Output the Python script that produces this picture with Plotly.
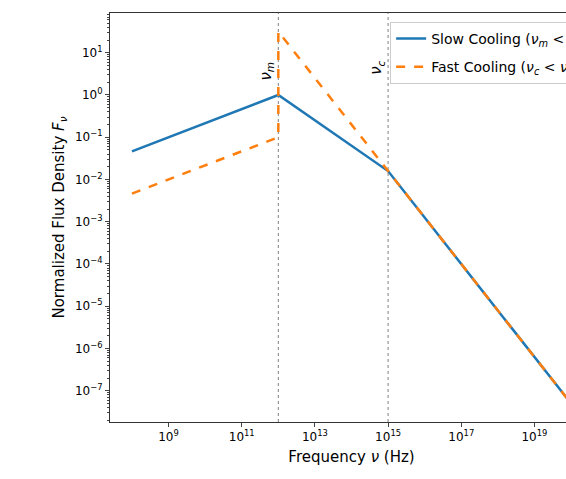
import plotly.graph_objects as go

# Data
slow_freq = [1e8, 1e12, 1e15, 1e20]
slow_flux = [0.0464, 1.0, 0.0158, 5.0e-8]
fast_freq = [1e8, 1e12, 1e12, 1e15, 1e20]
fast_flux = [0.00464, 0.1, 31.6, 0.0158, 5.0e-8]
nu_m = 1e12
nu_c = 1e15

x_tickvals = [1e9, 1e11, 1e13, 1e15, 1e17, 1e19]
x_ticktext = ["10<sup>9</sup>", "10<sup>11</sup>", "10<sup>13</sup>", "10<sup>15</sup>",
              "10<sup>17</sup>", "10<sup>19</sup>"]
y_exps = [1, 0, -1, -2, -3, -4, -5, -6, -7]
y_tickvals = [10.0 ** e for e in y_exps]
y_ticktext = ["10<sup>%s</sup>" % (str(e) if e >= 0 else "\u2212" + str(-e)) for e in y_exps]
y_minor = [m * 10.0 ** e for e in range(-8, 2) for m in range(2, 10)]

FONT = "DejaVu Sans"

fig = go.Figure()
fig.add_trace(go.Scatter(x=slow_freq, y=slow_flux, mode="lines", legendgroup="slow",
                         name="Slow Cooling (<i>ν</i><sub><i>m</i></sub> &lt; <i>ν</i><sub><i>c</i></sub>)",
                         line=dict(color="#1f77b4", width=2.5)))
fig.add_trace(go.Scatter(x=fast_freq, y=fast_flux, mode="lines", legendgroup="fast",
                         name="Fast Cooling (<i>ν</i><sub><i>c</i></sub> &lt; <i>ν</i><sub><i>m</i></sub>)",
                         line=dict(color="#ff7f0e", width=2.5, dash="dash")))

for xv in (nu_m, nu_c):
    fig.add_shape(type="line", x0=xv, x1=xv, y0=0, y1=1, xref="x", yref="paper",
                  line=dict(color="gray", width=1, dash="dot"), layer="below")

fig.add_annotation(x=12, y=0.887, xref="x", yref="paper", text="<i>ν</i><sub><i>m</i></sub>",
                   showarrow=False, textangle=-90, xanchor="right", xshift=0,
                   font=dict(family=FONT, size=15, color="black"))
fig.add_annotation(x=15, y=0.887, xref="x", yref="paper", text="<i>ν</i><sub><i>c</i></sub>",
                   showarrow=False, textangle=-90, xanchor="right", xshift=0,
                   font=dict(family=FONT, size=15, color="black"))

fig.update_layout(
    width=620, height=479,
    margin=dict(l=110, r=27, t=13, b=57),
    paper_bgcolor="white", plot_bgcolor="white",
    font=dict(family=FONT, size=12, color="black"),
    legend=dict(x=0.58, y=0.978, xanchor="left", yanchor="top",
                bordercolor="#cccccc", borderwidth=1, bgcolor="white",
                font=dict(family=FONT, size=14), tracegroupgap=7),
    xaxis=dict(type="log", range=[7.4, 20.6], tickvals=x_tickvals, ticktext=x_ticktext,
               showgrid=False, zeroline=False, showline=True, mirror=True,
               linecolor="#333333", linewidth=1, ticks="outside", ticklen=4,
               tickfont=dict(size=12),
               title=dict(text="Frequency <i>ν</i> (Hz)", font=dict(size=15), standoff=8)),
    yaxis=dict(type="log", range=[-7.74, 1.94], tickvals=y_tickvals, ticktext=y_ticktext,
               showgrid=False, zeroline=False, showline=True, mirror=True,
               linecolor="#333333", linewidth=1, ticks="outside", ticklen=4,
               tickfont=dict(size=12),
               minor=dict(tickvals=y_minor, ticks="outside", ticklen=2, showgrid=False),
               title=dict(text="Normalized Flux Density <i>F</i><sub><i>ν</i></sub>",
                          font=dict(size=15), standoff=6)),
)

page_css = ("document.documentElement.style.overflow='hidden';"
            "document.body.style.overflow='hidden';"
            "document.body.style.margin='0';")

fig.write_html("out.html", post_script=page_css, config={"displayModeBar": False})
